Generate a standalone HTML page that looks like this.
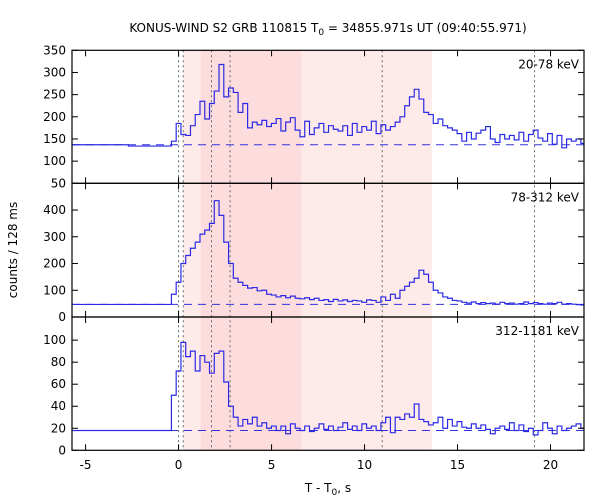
<!DOCTYPE html>
<html><head><meta charset="utf-8"><style>
body{margin:0;background:#fff}
svg{display:block;font-family:"DejaVu Sans","Liberation Sans",sans-serif}
</style></head><body>
<svg id="c" width="600" height="500">
<text x="328" y="32" text-anchor="middle" font-size="12">KONUS-WIND S2 GRB 110815 T<tspan font-size="9" dy="3">0</tspan><tspan dy="-3"> = 34855.971s UT (09:40:55.971)</tspan></text>
<text transform="translate(17,250) rotate(-90)" text-anchor="middle" font-size="12">counts / 128 ms</text>
<text x="328" y="492" text-anchor="middle" font-size="12">T - T<tspan font-size="9" dy="3">0</tspan><tspan dy="-3">, s</tspan></text>
</svg>
<script>
const binStart = -0.384, binW = 0.256;
const preEdges = [-5.73, -2.7, -0.384];
const pre1 = [137, 134], pre2 = [47, 47], pre3 = [18, 18];
const s1 = [145,185,160,158,180,205,235,195,230,258,318,245,265,255,210,230,175,188,182,192,178,185,196,168,188,198,170,155,190,160,175,185,165,180,172,168,180,158,185,165,178,170,190,162,182,170,178,188,200,225,245,262,240,210,205,185,195,180,175,170,162,145,165,150,163,170,178,150,142,160,150,158,148,165,145,160,170,152,145,162,138,158,130,150,145,150,140];
const s2 = [85,130,200,230,257,280,310,325,350,435,380,280,200,145,130,118,108,110,98,100,85,82,75,80,72,78,70,68,72,65,70,62,65,58,66,60,64,58,62,60,55,64,62,55,75,62,85,70,100,115,130,145,175,160,130,100,90,75,70,62,60,55,52,56,50,54,50,52,48,55,50,52,48,50,56,50,54,50,48,52,50,55,48,50,48,46,45];
const s3 = [50,72,98,85,90,72,86,80,70,88,90,62,40,30,22,28,24,30,22,25,20,22,18,22,15,24,20,18,22,17,20,24,19,22,18,21,25,19,22,18,24,20,22,18,25,30,16,30,28,33,30,42,28,26,23,25,30,20,28,22,26,21,20,24,20,23,19,15,20,22,19,25,18,23,17,20,14,18,25,20,15,22,18,20,22,24,20];
const baselines = [137, 47, 18];
const labels = ["20-78 keV", "78-312 keV", "312-1181 keV"];
const yRanges = [[50,350],[0,500],[0,121]];
const yTicks = [[50,100,150,200,250,300,350],[0,100,200,300,400],[0,20,40,60,80,100]];
const xTicks = [-5,0,5,10,15,20];
const vLines = [0, 0.25, 1.77, 2.77, 10.95, 19.14];
const lightBand = [0.25, 13.62];
const darkBand = [1.2, 6.6];

const NS="http://www.w3.org/2000/svg";
const svg=document.getElementById('c');
const L=72,R=584,xmin=-5.73,xmax=21.8;
const panels=[[50.3,183.3],[183.3,317],[317,450.3]];
const X=t=>L+(t-xmin)/(xmax-xmin)*(R-L);
function mk(tag,attrs,parent){const e=document.createElementNS(NS,tag);for(const k in attrs)e.setAttribute(k,attrs[k]);(parent||svg).appendChild(e);return e;}
const topY=panels[0][0],botY=panels[2][1];
let e=mk('rect',{x:X(lightBand[0]),y:topY,width:X(lightBand[1])-X(lightBand[0]),height:botY-topY,fill:'#ffeaea'});


e=mk('rect',{x:X(darkBand[0]),y:topY,width:X(darkBand[1])-X(darkBand[0]),height:botY-topY,fill:'#fddcde'});


vLines.forEach(v=>{
  const l=mk('line',{x1:X(v),x2:X(v),y1:topY,y2:botY,stroke:'#666','stroke-dasharray':'2,3','stroke-width':1});
  
  
});
const series=[s1,s2,s3],pres=[pre1,pre2,pre3];
panels.forEach((p,k)=>{
  const [y0,y1]=p,[a,b]=yRanges[k];
  const Y=v=>y1-(v-a)/(b-a)*(y1-y0);
  const g=mk('g',{});
  
  
  const bl=mk('line',{x1:L,x2:R,y1:Y(baselines[k]),y2:Y(baselines[k]),stroke:'#3333dd','stroke-dasharray':'8,6','stroke-width':1},g);
  
  
  let d='',pe=preEdges,pv=pres[k];
  for(let i=0;i<pv.length;i++){d+=(i?'L':'M')+X(pe[i])+','+Y(pv[i])+'L'+X(pe[i+1])+','+Y(pv[i]);}
  const s=series[k];
  for(let i=0;i<s.length;i++){const t0=binStart+i*binW,t1=Math.min(t0+binW,xmax);d+='L'+X(t0)+','+Y(s[i])+'L'+X(t1)+','+Y(s[i]);}
  const path=mk('path',{d:d,fill:'none',stroke:'#2a2ae6','stroke-width':1.2},g);
  
  
  mk('rect',{x:L,y:y0,width:R-L,height:y1-y0,fill:'none',stroke:'#000','stroke-width':1.2},g);
  xTicks.forEach(t=>{mk('line',{x1:X(t),x2:X(t),y1:y0,y2:y0+6,stroke:'#000'},g);mk('line',{x1:X(t),x2:X(t),y1:y1,y2:y1-6,stroke:'#000'},g);});
  yTicks[k].forEach(v=>{
    const yy=Y(v);
    mk('line',{x1:L,x2:L+6,y1:yy,y2:yy,stroke:'#000'},g);mk('line',{x1:R,x2:R-6,y1:yy,y2:yy,stroke:'#000'},g);
    const tx=mk('text',{x:L-6,y:yy+4,'text-anchor':'end','font-size':12},g);tx.textContent=v;
    
    
  });
  const lb=mk('text',{x:579,y:y0+18,'text-anchor':'end','font-size':12},g);lb.textContent=labels[k];
  
  
});
xTicks.forEach(t=>{
  const tx=mk('text',{x:X(t),y:469,'text-anchor':'middle','font-size':12});tx.textContent=t;
  
  
});
</script>
</body></html>
